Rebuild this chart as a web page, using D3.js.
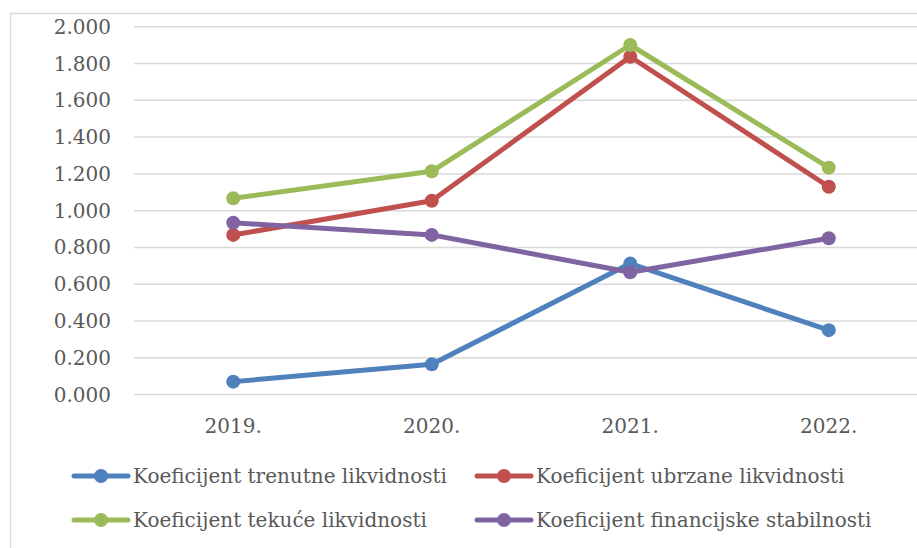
<!DOCTYPE html>
<html>
  <head>
    <meta charset="utf-8">
    <style>
      body { margin: 0; background: #fff; }
      text { font-family: "DejaVu Serif", serif; fill: #595959; }
    </style>
    <script src="https://d3js.org/d3.v7.min.js"></script>
    <title>koeficijenti</title>
  </head>
  <body>
    <div id="chart"></div>
    <script>
    // podaci
    var years = ["2019.", "2020.", "2021.", "2022."]
    var seriesNames = ["Koeficijent trenutne likvidnosti", "Koeficijent ubrzane likvidnosti",
                       "Koeficijent tekuće likvidnosti", "Koeficijent financijske stabilnosti"]
    var trenutne = [0.070, 0.164, 0.712, 0.350]
    var ubrzane = [0.868, 1.054, 1.837, 1.130]
    var tekuce = [1.067, 1.214, 1.901, 1.234]
    var stabilnosti = [0.934, 0.868, 0.665, 0.850]
    var yTicks = [0, 0.2, 0.4, 0.6, 0.8, 1.0, 1.2, 1.4, 1.6, 1.8, 2.0]
    var colors = ["#4F81BD", "#C0504D", "#9BBB59", "#8064A2"]

    var W = 917, H = 548
    var FS = "20px"
    var svg = d3.select("#chart").append("svg")
      .attr("width", W).attr("height", H)

    // okvir (desno i dolje odrezano)
    svg.append("path")
      .attr("d", "M10.5," + H + "V13.5H" + W)
      .attr("fill", "none").attr("stroke", "#d9d9d9").attr("stroke-width", 1.5)

    var x = d3.scaleBand().domain(years).range([134, 928])
    var y = d3.scaleLinear().domain([0, 2]).range([394.5, 26.8])

    // mreza
    svg.append("g").selectAll("line").data(yTicks).enter().append("line")
      .attr("x1", 134).attr("x2", W)
      .attr("y1", function(d) { return y(d) }).attr("y2", function(d) { return y(d) })
      .attr("stroke", "#d9d9d9").attr("stroke-width", 1.5)

    svg.append("g").selectAll("text").data(yTicks).enter().append("text")
      .attr("x", 111).attr("y", function(d) { return y(d) })
      .attr("dy", "0.35em").attr("text-anchor", "end")
      .style("font-size", FS)
      .text(function(d) { return d3.format(".3f")(d) })

    svg.append("g").selectAll("text").data(years).enter().append("text")
      .attr("x", function(d) { return x(d) + x.bandwidth() / 2 }).attr("y", 433)
      .attr("text-anchor", "middle")
      .style("font-size", FS)
      .text(function(d) { return d })

    var series = [trenutne, ubrzane, tekuce, stabilnosti]
    var line = d3.line()
      .x(function(d, i) { return x(years[i]) + x.bandwidth() / 2 })
      .y(function(d) { return y(d) })

    series.forEach(function(s, k) {
      var g = svg.append("g")
      g.append("path").attr("d", line(s))
        .attr("fill", "none").attr("stroke", colors[k]).attr("stroke-width", 5)
        .attr("stroke-linejoin", "round")
      g.selectAll("circle").data(s).enter().append("circle")
        .attr("cx", function(d, i) { return x(years[i]) + x.bandwidth() / 2 })
        .attr("cy", function(d) { return y(d) })
        .attr("r", 7).attr("fill", colors[k])
    })

    // legenda
    var legPos = [[73, 476], [476, 476], [73, 520], [476, 520]]
    seriesNames.forEach(function(n, k) {
      var g = svg.append("g").attr("transform", "translate(" + legPos[k][0] + "," + legPos[k][1] + ")")
      g.append("line").attr("x1", 1).attr("x2", 55)
        .attr("stroke", colors[k]).attr("stroke-width", 5).attr("stroke-linecap", "round")
      g.append("circle").attr("cx", 28).attr("r", 7).attr("fill", colors[k])
      g.append("text").attr("x", 60).attr("dy", "0.35em")
        .style("font-size", FS).text(n)
    })
    </script>
  </body>
</html>
